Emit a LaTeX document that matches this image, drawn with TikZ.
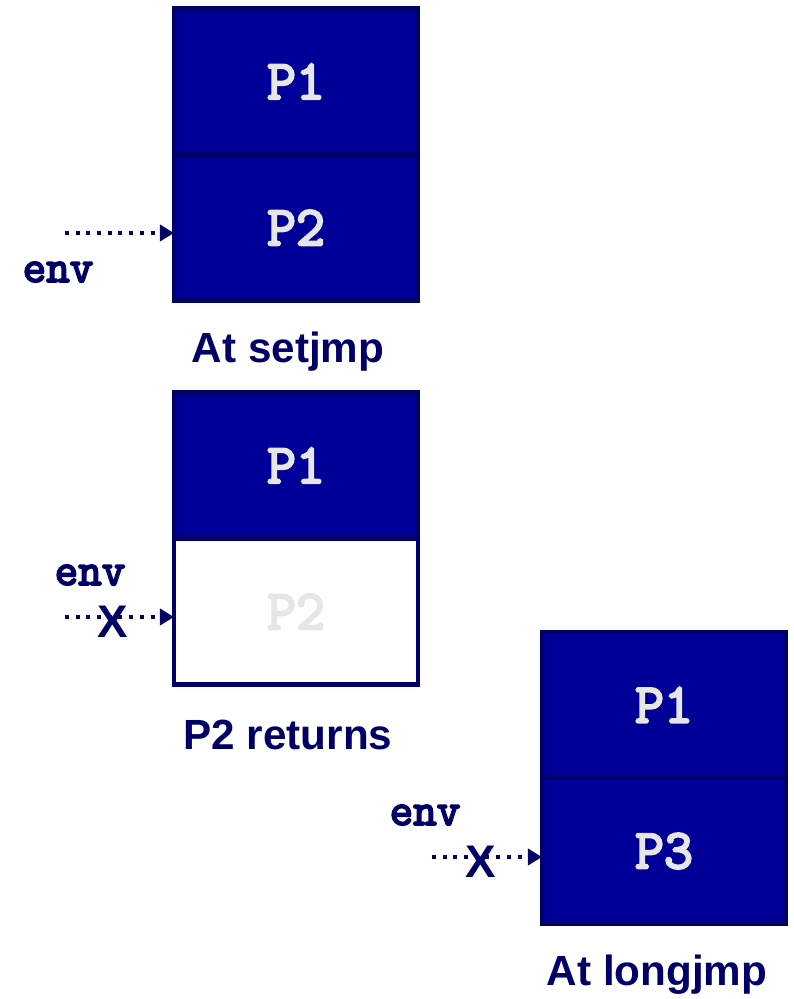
\documentclass[tikz,border=0pt]{standalone}
\usepackage{fontspec}
\setmainfont{Liberation Sans}
\newfontfamily\codefont[FakeBold=4]{Latin Modern Mono}
\usetikzlibrary{positioning,arrows.meta}
\definecolor{navyline}{HTML}{000066}
\definecolor{navyfill}{HTML}{000099}
\definecolor{ghost}{HTML}{E6E6E6}

\begin{document}
\begin{tikzpicture}[x=0.01cm,y=-0.01cm,
	stackbox/.style={draw=navyline, line width=1.3pt, minimum width=2.44cm,
		minimum height=1.46cm, outer sep=0pt, inner sep=0pt,
		font=\fontsize{16}{18}\selectfont\codefont, text=ghost},
	full/.style={stackbox, fill=navyfill},
	caption/.style={font=\fontsize{12}{14}\selectfont\bfseries, text=navyline},
	envlabel/.style={font=\fontsize{13}{14}\selectfont\codefont, text=navyline},
	cross/.style={font=\fontsize{13}{14}\selectfont\bfseries, text=navyline},
	envptr/.style={draw=navyline, line width=1.14pt, dash pattern=on 1.14pt off 1.9pt,
		-{Triangle[length=4pt,width=4.6pt]}}]
	\useasboundingbox (0,0) rectangle (793,999);
	% at setjmp
	\node[full] (a1) at (296,81.5) {P1};
	\node[full, below=0pt of a1] (a2) {P2};
	\node[caption] (acap) at (288,352) {At setjmp};
	\coordinate (aenv) at (65,233);
	\node[envlabel] (alab) at (58,272) {env};
	\draw[envptr] (aenv) -- (aenv -| a2.west);
	% P2 returns
	\node[full] (b1) at (296,465.5) {P1};
	\node[stackbox, fill=white, below=0pt of b1] (b2) {P2};
	\node[caption] (bcap) at (288,735) {P2 returns};
	\coordinate (benv) at (65,617);
	\node[envlabel] (blab) at (90,575) {env};
	\draw[envptr] (benv) -- (benv -| b2.west);
	\node[cross] (bx) at (113,622) {X};
	% at longjmp
	\node[full] (c1) at (664,705) {P1};
	\node[full, below=0pt of c1] (c2) {P3};
	\node[caption] (ccap) at (657,975) {At longjmp};
	\coordinate (cenv) at (432,857);
	\node[envlabel] (clab) at (425,815) {env};
	\draw[envptr] (cenv) -- (cenv -| c2.west);
	\node[cross] (cx) at (481,862) {X};
\end{tikzpicture}
\end{document}
